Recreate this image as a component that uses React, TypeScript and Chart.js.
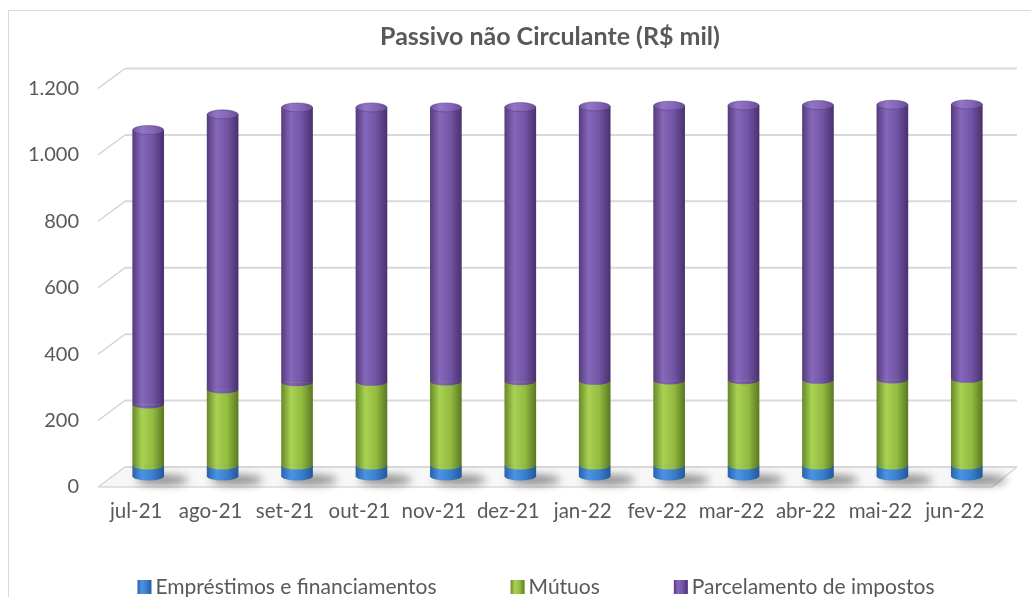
import React, { useEffect, useRef } from 'react';
import { Chart, registerables } from 'chart.js';

Chart.register(...registerables);

const categories = ['jul-21', 'ago-21', 'set-21', 'out-21', 'nov-21', 'dez-21', 'jan-22', 'fev-22', 'mar-22', 'abr-22', 'mai-22', 'jun-22'];
const emprestimos = [33, 33, 33, 33, 33, 33, 33, 33, 33, 33, 33, 33];
const mutuos = [184, 229, 251, 252, 253, 254, 255, 256, 257, 258, 259, 261];
const parcelamento = [828, 830, 829, 828, 827, 827, 828, 829, 829, 829, 829, 828];
const seriesLabels = ['Empréstimos e financiamentos', 'Mútuos', 'Parcelamento de impostos'];
const yTickValues = [0, 200, 400, 600, 800, 1000, 1200];
const chartTitle = 'Passivo não Circulante (R$ mil)';

const PALETTES = [
  ['#2b63aa', '#4b93e3', '#3a7fce', '#26589a'],
  ['#6a8a2a', '#a8d252', '#93bc40', '#5c7a22'],
  ['#563c7e', '#8667ba', '#7254a4', '#4a316f'],
];
const CAP_PURPLE = ['#6f52a0', '#9275c6', '#8466b6', '#6a4d98'];
const TEXT = '#595959';
const FONT = 'Lato, "Open Sans", sans-serif';

function ok(...v: number[]) {
  return v.every((n) => typeof n === 'number' && isFinite(n));
}

function grad(ctx: CanvasRenderingContext2D, x0: number, x1: number, s: string[]) {
  if (!ok(x0, x1)) return s[1];
  const g = ctx.createLinearGradient(x0, 0, x1, 0);
  g.addColorStop(0, s[0]);
  g.addColorStop(0.3, s[1]);
  g.addColorStop(0.65, s[2]);
  g.addColorStop(1, s[3]);
  return g;
}

function fmt(v: number) {
  const s = String(Math.round(v));
  return s.replace(/\B(?=(\d{3})+(?!\d))/g, '.');
}

const BAR_W = 31;

const excelPlugin = {
  id: 'excel3d',
  beforeDraw(chart: any) {
    const ctx = chart.ctx;
    ctx.save();
    ctx.fillStyle = '#ffffff';
    ctx.fillRect(0, 0, chart.width, chart.height);
    ctx.strokeStyle = '#d9d9d9';
    ctx.lineWidth = 1;
    ctx.strokeRect(8.5, 10.5, chart.width + 20, chart.height + 20);
    ctx.restore();
  },
  beforeDatasetsDraw(chart: any) {
    const ctx = chart.ctx;
    const { left, right } = chart.chartArea;
    const ys = chart.scales.y;
    const xs = chart.scales.x;
    const D = 10;
    const fL = left - 13, bL = left + 14, bR = right + 13, fR = right - 12;
    const y0 = ys.getPixelForValue(0);
    if (!ok(left, right, y0)) return;
    ctx.save();
    ctx.beginPath();
    ctx.moveTo(fL, y0 + D);
    ctx.lineTo(fR, y0 + D);
    ctx.lineTo(bR, y0 - D);
    ctx.lineTo(bL, y0 - D);
    ctx.closePath();
    ctx.fillStyle = '#f7f7f7';
    ctx.fill();
    yTickValues.forEach((v) => {
      const py = ys.getPixelForValue(v);
      ctx.strokeStyle = '#d9d9d9';
      ctx.lineWidth = 2;
      ctx.beginPath();
      ctx.moveTo(bL, py - D);
      ctx.lineTo(bR, py - D);
      ctx.stroke();
      ctx.strokeStyle = '#d0d0d0';
      ctx.lineWidth = 1.3;
      ctx.beginPath();
      ctx.moveTo(fL, py + D);
      ctx.lineTo(bL, py - D);
      ctx.stroke();
    });
    ctx.strokeStyle = '#d9d9d9';
    ctx.lineWidth = 1.5;
    ctx.beginPath();
    ctx.moveTo(fL, y0 + D);
    ctx.lineTo(fR, y0 + D);
    ctx.lineTo(bR, y0 - D);
    ctx.stroke();
    ctx.filter = 'blur(4px)';
    ctx.fillStyle = 'rgba(0,0,0,0.45)';
    categories.forEach((_, i) => {
      const cx = xs.getPixelForValue(i);
      if (!ok(cx)) return;
      ctx.beginPath();
      ctx.ellipse(cx + 14, y0 + 3, 26, 5, 0, 0, Math.PI * 2);
      ctx.fill();
    });
    ctx.filter = 'none';
    ctx.restore();
  },
  afterDatasetsDraw(chart: any) {
    const ctx = chart.ctx;
    const metas = [0, 1, 2].map((d) => chart.getDatasetMeta(d));
    ctx.save();
    categories.forEach((_, i) => {
      const els = metas.map((m) => m.data[i]);
      if (els.some((e: any) => !e)) return;
      const x = els[0].x;
      const w = els[0].width;
      const r = w / 2;
      if (!ok(x, r)) return;
      els.forEach((el: any, d: number) => {
        if (!ok(el.base)) return;
        ctx.beginPath();
        ctx.ellipse(x, el.base - 0.5, r, 4, 0, 0, Math.PI);
        ctx.fillStyle = grad(ctx, x - r, x + r, PALETTES[d]);
        ctx.fill();
      });
      const top = els[2];
      if (!ok(top.y)) return;
      ctx.beginPath();
      ctx.ellipse(x, top.y, r, 4.5, 0, 0, Math.PI * 2);
      ctx.fillStyle = grad(ctx, x - r, x + r, CAP_PURPLE);
      ctx.fill();
      ctx.strokeStyle = 'rgba(80,55,120,0.6)';
      ctx.lineWidth = 0.8;
      ctx.stroke();
    });
    ctx.restore();
  },
  afterDraw(chart: any) {
    const ctx = chart.ctx;
    ctx.save();
    ctx.fillStyle = TEXT;
    ctx.font = 'bold 25px ' + FONT;
    ctx.textAlign = 'center';
    ctx.textBaseline = 'middle';
    ctx.fillText(chartTitle, 550, 37);

    ctx.font = '21px ' + FONT;
    const box = 14, gapBox = 4, gapItem = 74;
    const widths = seriesLabels.map((t) => ctx.measureText(t).width);
    const total = widths.reduce((a, b) => a + b, 0) + seriesLabels.length * (box + gapBox) + gapItem * (seriesLabels.length - 1);
    let x = 536 - total / 2;
    const yc = 587;
    ctx.textAlign = 'left';
    seriesLabels.forEach((t, d) => {
      ctx.fillStyle = grad(ctx, x, x + box, PALETTES[d]);
      ctx.fillRect(x, yc - box / 2, box, box);
      x += box + gapBox;
      ctx.fillStyle = TEXT;
      ctx.fillText(t, x, yc);
      x += widths[d] + gapItem;
    });
    ctx.restore();
  },
};

function barColor(d: number) {
  return (c: any) => {
    const chart = c.chart;
    const xs = chart.scales && chart.scales.x;
    if (!xs || c.dataIndex === undefined || !chart.chartArea) return PALETTES[d][1];
    const cx = xs.getPixelForValue(c.dataIndex);
    if (!ok(cx)) return PALETTES[d][1];
    return grad(chart.ctx, cx - BAR_W / 2, cx + BAR_W / 2, PALETTES[d]);
  };
}

export default function App() {
  const ref = useRef<HTMLCanvasElement | null>(null);
  useEffect(() => {
    if (!ref.current) return;
    const chart = new Chart(ref.current, {
      type: 'bar',
      data: {
        labels: categories,
        datasets: [
          { label: seriesLabels[0], data: emprestimos, backgroundColor: barColor(0), barThickness: BAR_W },
          { label: seriesLabels[1], data: mutuos, backgroundColor: barColor(1), barThickness: BAR_W },
          { label: seriesLabels[2], data: parcelamento, backgroundColor: barColor(2), barThickness: BAR_W },
        ],
      },
      options: {
        animation: false,
        responsive: false,
        layout: { padding: { top: 78.5, right: 27, bottom: 0, left: 0 } },
        plugins: { legend: { display: false }, title: { display: false }, tooltip: { enabled: false } },
        scales: {
          x: {
            stacked: true,
            grid: { display: false, drawTicks: false },
            border: { display: false },
            ticks: { color: TEXT, font: { family: FONT, size: 20.5 }, padding: 22, labelOffset: -12, maxRotation: 0, autoSkip: false },
            afterFit: (s: any) => { s.height = 120; },
          },
          y: {
            stacked: true,
            min: 0,
            max: 1200,
            grid: { display: false, drawTicks: false },
            border: { display: false },
            ticks: { stepSize: 200, color: TEXT, font: { family: FONT, size: 20 }, padding: 32, labelOffset: 10, callback: (v: any) => fmt(Number(v)) },
            afterFit: (s: any) => { s.width = 111; },
          },
        },
      },
      plugins: [excelPlugin],
    });
    chart.update();
    if ((document as any).fonts && (document as any).fonts.load) {
      Promise.all([
        (document as any).fonts.load('20px Lato'),
        (document as any).fonts.load('bold 25px Lato'),
      ]).then(() => { try { chart.update(); } catch (e) {} }).catch(() => {});
    }
    return () => chart.destroy();
  }, []);
  return (
    <div style={{ position: 'absolute', left: 0, top: 0, width: 1031, height: 597, overflow: 'hidden' }}>
      <canvas ref={ref} width={1031} height={597} style={{ display: 'block' }} />
    </div>
  );
}
